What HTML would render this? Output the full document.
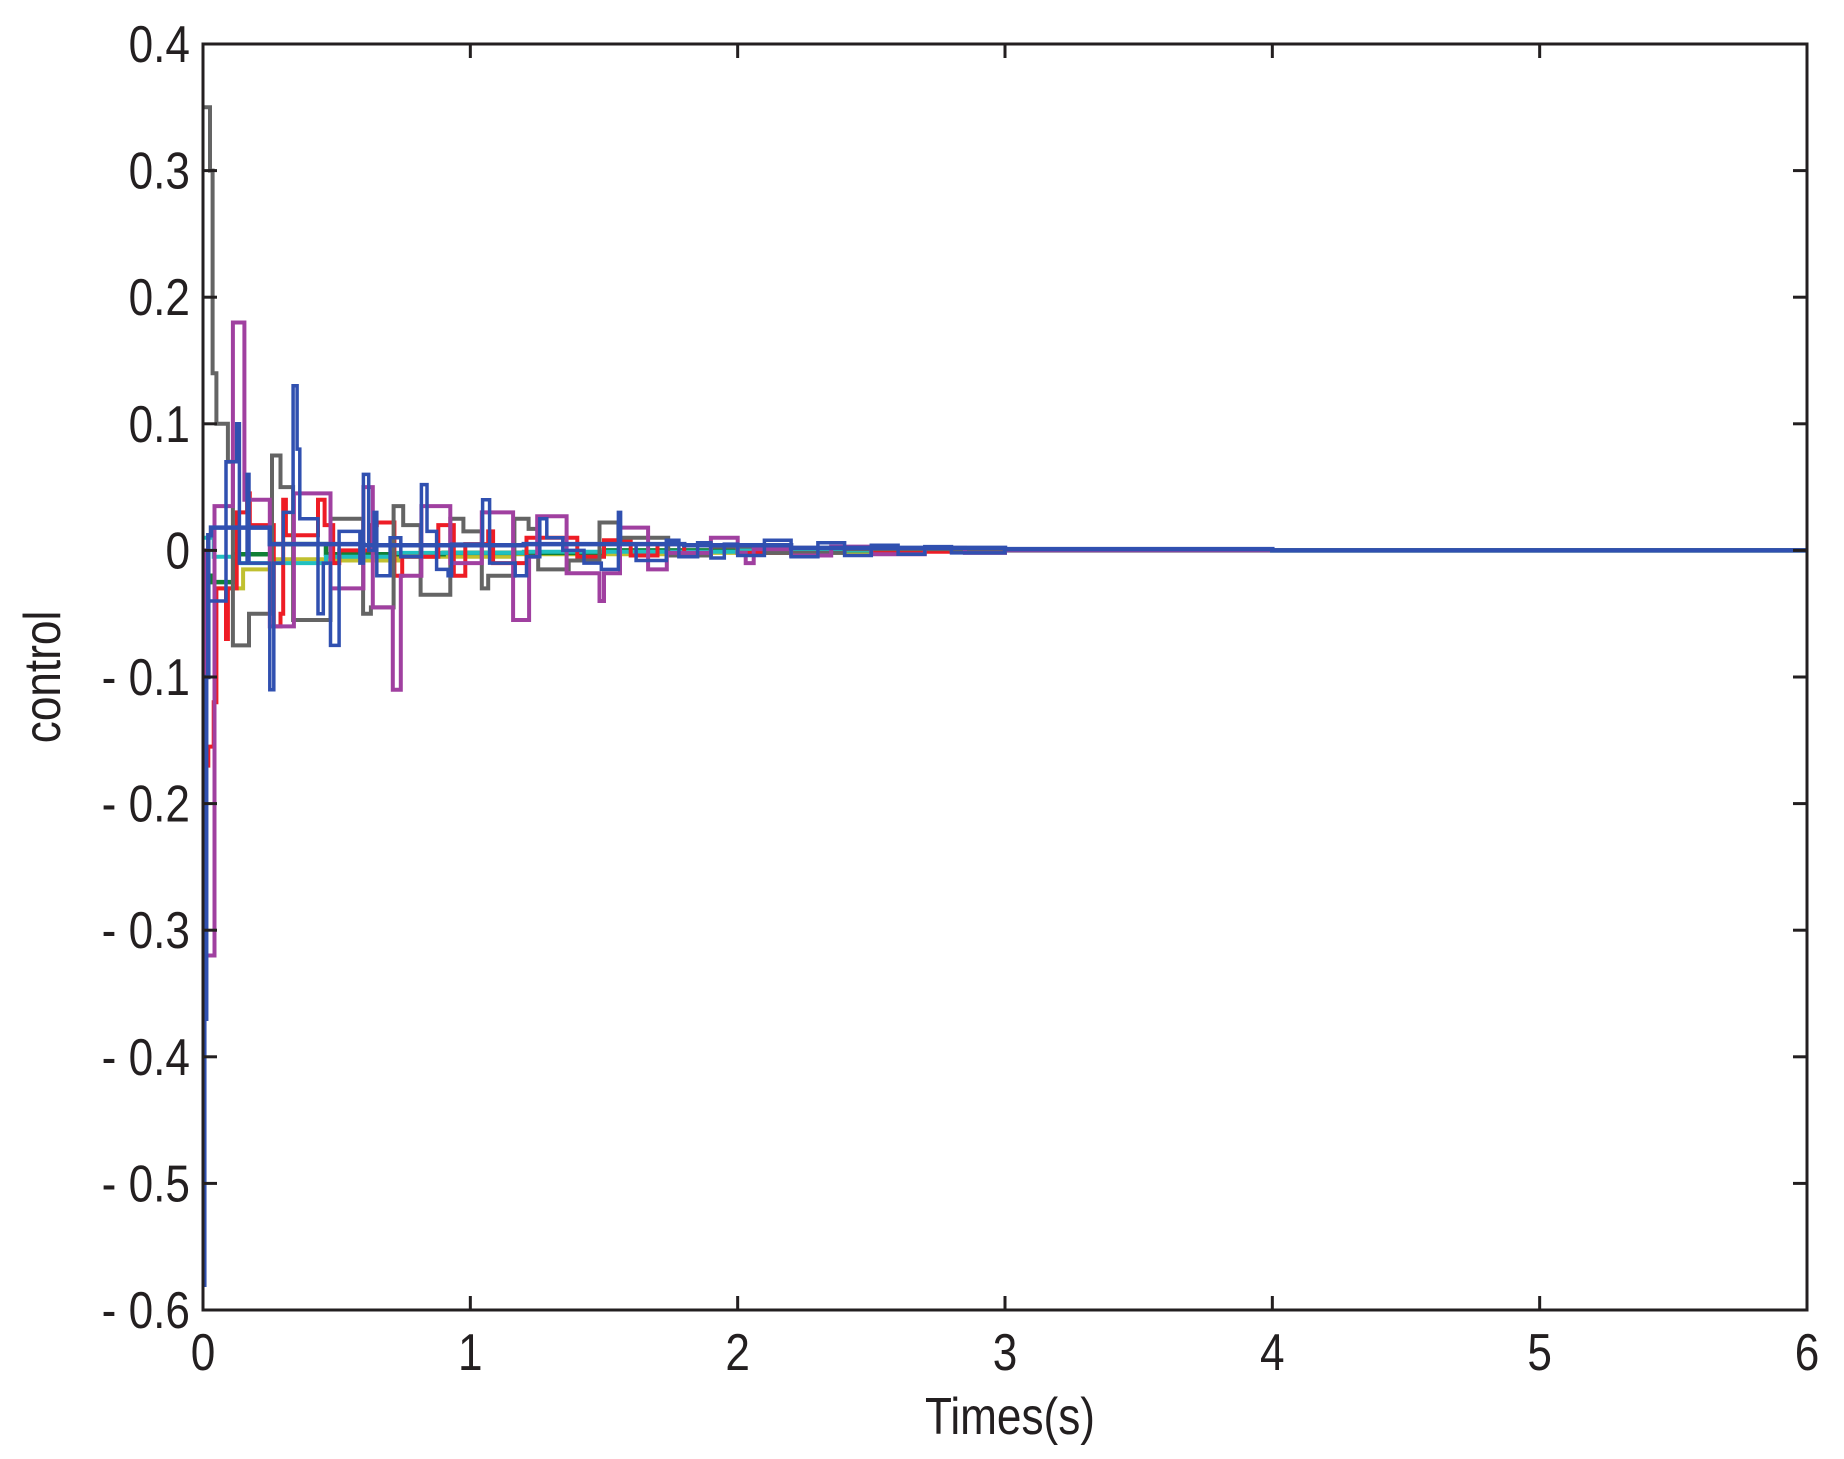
<!DOCTYPE html>
<html><head><meta charset="utf-8">
<style>
html,body{margin:0;padding:0;background:#fff;}
svg{display:block;}
text{font-family:"Liberation Sans",Arial,sans-serif;fill:#231f20;}
</style></head>
<body>
<svg id="chart" width="1844" height="1459" viewBox="0 0 1844 1459" xmlns="http://www.w3.org/2000/svg">
<rect x="0" y="0" width="1844" height="1459" fill="#fff"/>
<g id="series"></g>
<rect x="203" y="44" width="1604" height="1266" fill="none" stroke="#231f20" stroke-width="3"/>
<g id="ticks"></g>
<text x="0" y="0" font-size="48" text-anchor="middle" transform="translate(1010,1434) scale(0.92,1.08)">Times(s)</text>
<text x="0" y="0" font-size="48" text-anchor="middle" transform="translate(60,677) rotate(-90) scale(0.92,1.08)">control</text>
</svg>
<script>
const xTicks=[0,1,2,3,4,5,6];
const xTickLabels=["0","1","2","3","4","5","6"];
const yTicks=[0.4,0.3,0.2,0.1,0,-0.1,-0.2,-0.3,-0.4,-0.5,-0.6];
const yTickLabels=["0.4","0.3","0.2","0.1","0","- 0.1","- 0.2","- 0.3","- 0.4","- 0.5","- 0.6"];

const grayT=[0,0.026,0.036,0.05,0.093,0.112,0.172,0.258,0.29,0.337,0.477,0.599,0.628,0.713,0.749,0.814,0.925,0.974,1.043,1.067,1.165,1.218,1.254,1.368,1.483,1.554,1.74,1.9,2.1,2.4,2.8,6];
const grayV=[0.35,0.30,0.14,0.10,0.07,-0.075,-0.05,0.075,0.05,-0.055,0.025,-0.05,-0.045,0.035,0.02,-0.035,0.025,0.015,-0.03,-0.02,0.025,0.017,-0.015,-0.008,0.022,0.01,-0.004,0.003,-0.002,0.001,0,0];

const magT=[0,0.01,0.028,0.043,0.112,0.155,0.25,0.34,0.477,0.6,0.635,0.71,0.74,0.817,0.925,1.043,1.16,1.22,1.25,1.36,1.483,1.5,1.56,1.665,1.735,1.9,2.0,2.03,2.06,2.2,2.35,2.5,2.7,2.85,3,6];
const magV=[0,-0.32,-0.32,0.035,0.18,0.04,-0.06,0.045,-0.03,0.05,-0.045,-0.11,-0.02,0.035,-0.01,0.03,-0.055,-0.005,0.027,-0.018,-0.04,-0.018,0.018,-0.015,-0.002,0.01,-0.002,-0.01,0.001,-0.004,0.003,-0.003,0.002,-0.002,0,0];

const blueAT=[0,0.005,0.012,0.02,0.03,0.25,0.6,1.2,1.5,1.8,2.2,3,4,6];
const blueAV=[-0.58,-0.37,-0.1,0.012,0.018,0.005,0.004,0.005,0.005,0.004,0.002,0.001,0,0];

const blueBT=[0.02,0.086,0.126,0.136,0.165,0.172,0.25,0.265,0.30,0.337,0.352,0.362,0.43,0.45,0.477,0.509,0.587,0.6,0.62,0.64,0.65,0.66,0.70,0.74,0.817,0.838,0.874,0.917,0.93,1.046,1.072,1.168,1.21,1.26,1.286,1.346,1.425,1.49,1.554,1.562,1.62,1.733,1.78,1.85,1.9,1.95,2.0,2.1,2.2,2.3,2.4,2.5,2.6,2.7,2.8,3.0,3.5];
const blueBV=[-0.04,0.07,0.1,-0.01,0.06,-0.01,-0.11,-0.01,0.03,0.13,0.08,0.025,-0.05,-0.01,-0.075,0.015,-0.01,0.06,0.0,0.03,-0.02,-0.02,0.01,-0.005,0.052,0.015,-0.015,-0.02,0.005,0.04,-0.01,-0.02,-0.005,0.025,0.01,0,-0.01,-0.015,0.03,0.005,-0.008,0.008,-0.005,0.006,-0.006,0.005,-0.004,0.008,-0.005,0.006,-0.004,0.004,-0.003,0.003,-0.002,0.001,0];

const redT=[0,0.01,0.02,0.04,0.05,0.086,0.093,0.126,0.165,0.175,0.265,0.29,0.30,0.31,0.344,0.43,0.455,0.487,0.51,0.627,0.65,0.716,0.745,0.88,0.938,0.981,1.067,1.085,1.21,1.296,1.4,1.5,1.6,1.7,1.8,1.9,2.0,2.2,2.5,3.0];
const redV=[-0.048,-0.17,-0.155,-0.12,-0.03,-0.07,-0.03,0.03,0.045,0.02,-0.06,-0.05,0.04,0.012,0.012,0.04,0.02,-0.01,0,0.02,0.022,-0.02,-0.005,0.02,-0.02,0.005,0.015,-0.01,0.01,0.01,-0.005,0.008,-0.004,0.005,-0.003,0.003,-0.002,0.002,-0.001,0];

const greenT=[0,0.03,0.115,0.26,0.46,0.9,1.5,6];
const greenV=[-0.02,-0.025,-0.003,0.005,-0.003,-0.002,0,0];

const cyanT=[0,0.04,0.13,0.46,0.71,1.2,2.0,6];
const cyanV=[0.01,-0.005,-0.01,-0.005,-0.002,-0.001,0,0];

const yellowT=[0,0.043,0.15,0.25,0.46,0.73,1.15,1.8,2.7,6];
const yellowV=[-0.02,-0.03,-0.015,-0.007,-0.008,-0.005,-0.003,-0.002,0,0];

const X0=203,X1=1807,Y0=44,Y1=1310;
function xs(t){return X0+(t-0)/(6-0)*(X1-X0);}
function ys(v){return Y1-(v-(-0.6))/(0.4-(-0.6))*(Y1-Y0);}
const NS="http://www.w3.org/2000/svg";
const gS=document.getElementById('series');
const gT=document.getElementById('ticks');

function stepPath(T,V){
  let d="M"+xs(T[0]).toFixed(1)+","+ys(V[0]).toFixed(1);
  for(let i=1;i<T.length;i++){
    d+=" H"+xs(T[i]).toFixed(1)+" V"+ys(V[i]).toFixed(1);
  }
  return d;
}
function addSeries(T,V,color,w,name){
  const p=document.createElementNS(NS,'path');
  p.setAttribute('d',stepPath(T,V));
  p.setAttribute('fill','none');
  p.setAttribute('stroke',color);
  p.setAttribute('stroke-width',w);
  p.setAttribute('stroke-linejoin','miter');
  
  
  gS.appendChild(p);
}
addSeries(yellowT,yellowV,'#c0c030',4,'series-yellow');
addSeries(greenT,greenV,'#108035',4.5,'series-green');
addSeries(cyanT,cyanV,'#20c0c0',4,'series-cyan');
addSeries(redT,redV,'#ee1c25',4,'series-red');
addSeries(grayT,grayV,'#646464',4,'series-gray');
addSeries(magT,magV,'#a040a0',4,'series-magenta');
addSeries(blueBT,blueBV,'#3050b0',3.5,'series-blue-thin');
addSeries(blueAT,blueAV,'#3050b0',4.5,'series-blue-thick');

function line(x1,y1,x2,y2,name){
  const l=document.createElementNS(NS,'line');
  l.setAttribute('x1',x1);l.setAttribute('y1',y1);l.setAttribute('x2',x2);l.setAttribute('y2',y2);
  l.setAttribute('stroke','#231f20');l.setAttribute('stroke-width','3');
  
  
  gT.appendChild(l);
}
function label(x,y,s,anchor,name){
  const t=document.createElementNS(NS,'text');
  t.setAttribute('x',0);t.setAttribute('y',0);
  t.setAttribute('font-size','48');
  t.setAttribute('text-anchor',anchor);
  t.setAttribute('transform','translate('+x+','+y+') scale(0.92,1.08)');
  t.textContent=s;
  
  
  gT.appendChild(t);
}
xTicks.forEach((v,i)=>{
  const x=xs(v);
  line(x,Y1,x,Y1-14,'x-tick');
  line(x,Y0,x,Y0+14,'x-tick-top');
  label(x,1370,xTickLabels[i],'middle','x-tick-label');
});
yTicks.forEach((v,i)=>{
  const y=ys(v);
  line(X0,y,X0+14,y,'y-tick');
  line(X1,y,X1-14,y,'y-tick-right');
  label(190,y+18,yTickLabels[i],'end','y-tick-label');
});
</script>
</body></html>
